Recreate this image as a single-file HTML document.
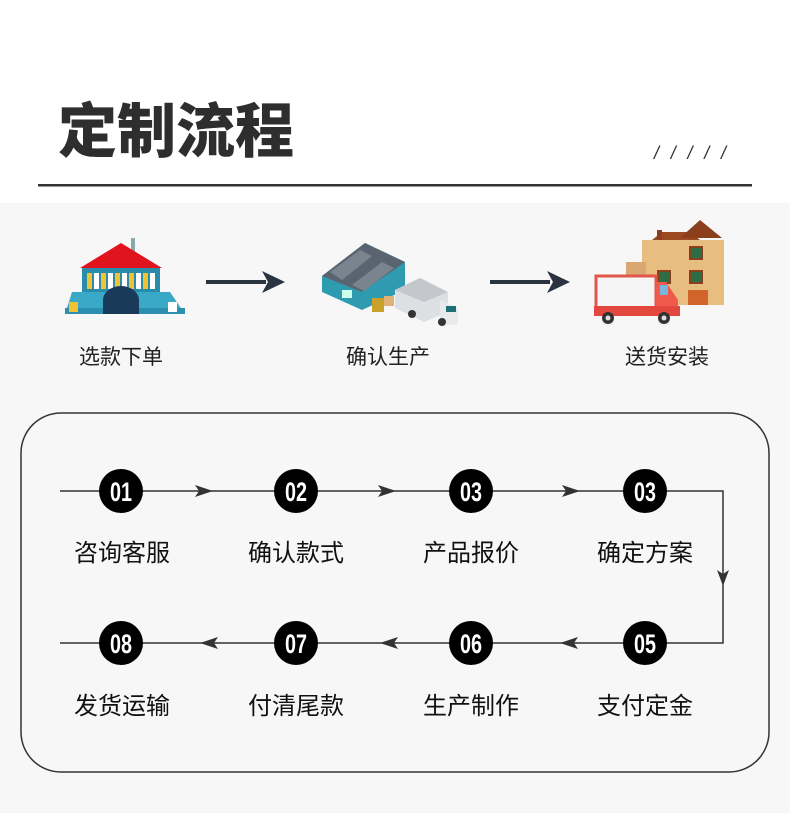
<!DOCTYPE html>
<html><head><meta charset="utf-8"><style>
body{margin:0;width:790px;height:813px;overflow:hidden;background:#fff;font-family:"Liberation Sans","Noto Sans CJK SC",sans-serif}
svg{display:block}
</style></head><body>
<svg width="790" height="813" viewBox="0 0 790 813" xmlns="http://www.w3.org/2000/svg">
<rect x="0" y="0" width="790" height="203" fill="#fff"/>
<rect x="0" y="203" width="790" height="610" fill="#f7f7f7"/>
<text x="58" y="152" font-family="Noto Sans CJK SC, sans-serif" font-weight="900" font-size="59" fill="#2e2e2e">定制流程</text>
<text x="654" y="159" font-family="Liberation Sans, sans-serif" font-style="italic" font-size="18" fill="#333" textLength="72" lengthAdjust="spacing">/////</text>
<rect x="38" y="184" width="714" height="2.5" fill="#333"/>

<!-- house icon -->
<rect x="131" y="238" width="4" height="14" fill="#8aa"/>
<polygon points="80,268 121,243 162,268" fill="#e0141c"/>
<rect x="82" y="268" width="78" height="24" fill="#2a8cab"/>
<g fill="#f2c233"><rect x="87" y="273" width="5" height="16"/><rect x="101" y="273" width="5" height="16"/><rect x="115" y="273" width="5" height="16"/><rect x="129" y="273" width="5" height="16"/><rect x="143" y="273" width="5" height="16"/></g>
<g fill="#fff"><rect x="94" y="273" width="5" height="16"/><rect x="108" y="273" width="5" height="16"/><rect x="122" y="273" width="5" height="16"/><rect x="136" y="273" width="5" height="16"/><rect x="150" y="273" width="5" height="16"/></g>
<polygon points="65,314 72,292 170,292 185,314" fill="#3aa9c8"/>
<rect x="65" y="308" width="120" height="6" fill="#2b8fb0"/>
<path d="M103,314 V300 a18,14 0 0 1 36,0 V314z" fill="#1a3a5a"/>
<rect x="69" y="302" width="9" height="10" fill="#f2c233"/>
<rect x="168" y="302" width="9" height="10" fill="#fff"/>

<!-- arrows top -->
<rect x="206" y="280" width="60" height="4" fill="#2a3340"/>
<polygon points="262,271 285,282 262,293 268,282" fill="#2a3340"/>
<rect x="490" y="280" width="60" height="4" fill="#2a3340"/>
<polygon points="547,271 570,282 547,293 553,282" fill="#2a3340"/>

<!-- warehouse -->
<polygon points="322,276 365,243 405,262 405,290 362,310 322,292" fill="#2f9bb0"/>
<polygon points="322,276 365,243 405,262 362,292" fill="#5a6470"/>
<polygon points="330,272 360,250 372,256 342,280" fill="#7a848f"/>
<polygon points="352,285 382,262 394,268 364,291" fill="#7a848f"/>
<rect x="342" y="290" width="10" height="8" fill="#cfe"/>
<!-- truck -->
<polygon points="395,290 420,278 448,292 448,312 424,322 395,308" fill="#dde0e3"/>
<polygon points="395,290 420,278 448,292 424,302" fill="#c4c8cc"/>
<polygon points="440,300 458,308 458,324 440,326" fill="#e8eaec"/>
<rect x="446" y="306" width="10" height="6" fill="#1d6f78"/>
<circle cx="412" cy="314" r="4" fill="#333"/><circle cx="442" cy="322" r="4" fill="#333"/>
<rect x="372" y="298" width="12" height="14" fill="#c9a02a"/>
<rect x="384" y="296" width="10" height="10" fill="#e0b27a"/>

<!-- delivery -->
<polygon points="652,240 662,232 690,232 700,240" fill="#9b4a22"/>
<polygon points="680,238 700,220 722,238" fill="#8c3f1c"/>
<rect x="657" y="230" width="5" height="10" fill="#8c3f1c"/>
<rect x="642" y="240" width="82" height="65" fill="#e8bd80"/>
<rect x="626" y="262" width="20" height="14" fill="#d9a872"/>
<rect x="690" y="247" width="12" height="12" fill="#2e6e46" stroke="#8c3f1c" stroke-width="2"/>
<rect x="690" y="271" width="12" height="12" fill="#2e6e46" stroke="#8c3f1c" stroke-width="2"/>
<rect x="658" y="271" width="12" height="12" fill="#2e6e46" stroke="#8c3f1c" stroke-width="2"/>
<rect x="688" y="290" width="20" height="15" fill="#d0642b"/>
<rect x="596" y="276" width="60" height="34" fill="#f5f5f5" stroke="#e2554a" stroke-width="3"/>
<path d="M656,282 h10 l12,18 v14 h-22z" fill="#ef5a4d"/>
<rect x="660" y="285" width="8" height="10" fill="#7ab5e0"/>
<rect x="594" y="306" width="86" height="10" fill="#e2483d"/>
<circle cx="608" cy="318" r="6" fill="#333"/><circle cx="664" cy="318" r="6" fill="#333"/>
<circle cx="608" cy="318" r="2.5" fill="#ddd"/><circle cx="664" cy="318" r="2.5" fill="#ddd"/>

<g font-size="21" fill="#222" text-anchor="middle">
<text x="121" y="364">选款下单</text>
<text x="388" y="364">确认生产</text>
<text x="667" y="364">送货安装</text>
</g>

<rect x="21" y="413" width="748" height="359" rx="40" fill="none" stroke="#333" stroke-width="1.5"/>

<g stroke="#333" stroke-width="1.5" fill="none">
<polyline points="60,491 723,491 723,643 60,643"/>
</g>
<g fill="#333">
<polygon points="195,485 213,491 195,497 199,491"/>
<polygon points="378,485 396,491 378,497 382,491"/>
<polygon points="562,485 580,491 562,497 566,491"/>
<polygon points="717,570 723,586 729,570 723,574"/>
<polygon points="218,637 200,643 218,649 214,643"/>
<polygon points="398,637 380,643 398,649 394,643"/>
<polygon points="578,637 560,643 578,649 574,643"/>
</g>
<g fill="#000">
<circle cx="121" cy="491" r="22"/><circle cx="296" cy="491" r="22"/><circle cx="471" cy="491" r="22"/><circle cx="645" cy="491" r="22"/>
<circle cx="121" cy="643" r="22"/><circle cx="296" cy="643" r="22"/><circle cx="471" cy="643" r="22"/><circle cx="645" cy="643" r="22"/>
</g>
<g fill="#fff" font-weight="bold" font-size="27" text-anchor="middle" font-family="Liberation Sans Narrow, Liberation Sans, sans-serif">
<text x="121" y="501" textLength="22" lengthAdjust="spacingAndGlyphs">01</text>
<text x="296" y="501" textLength="22" lengthAdjust="spacingAndGlyphs">02</text>
<text x="471" y="501" textLength="22" lengthAdjust="spacingAndGlyphs">03</text>
<text x="645" y="501" textLength="22" lengthAdjust="spacingAndGlyphs">03</text>
<text x="121" y="653" textLength="22" lengthAdjust="spacingAndGlyphs">08</text>
<text x="296" y="653" textLength="22" lengthAdjust="spacingAndGlyphs">07</text>
<text x="471" y="653" textLength="22" lengthAdjust="spacingAndGlyphs">06</text>
<text x="645" y="653" textLength="22" lengthAdjust="spacingAndGlyphs">05</text>
</g>
<g font-size="24" fill="#111" text-anchor="middle">
<text x="122" y="561">咨询客服</text>
<text x="296" y="561">确认款式</text>
<text x="471" y="561">产品报价</text>
<text x="645" y="561">确定方案</text>
<text x="122" y="714">发货运输</text>
<text x="296" y="714">付清尾款</text>
<text x="471" y="714">生产制作</text>
<text x="645" y="714">支付定金</text>
</g>
</svg>
</body></html>
